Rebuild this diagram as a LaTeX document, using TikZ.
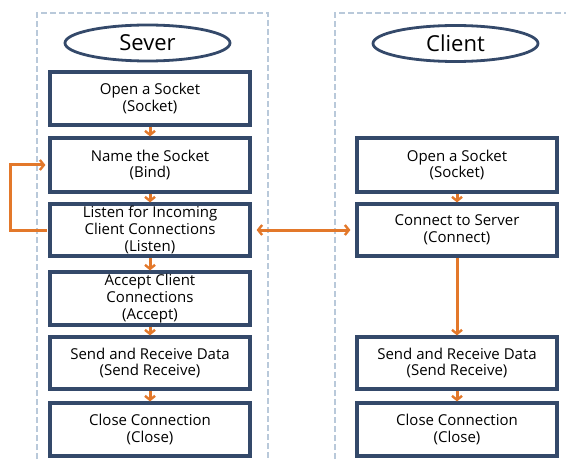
\documentclass[tikz,border=0pt]{standalone}
\usepackage{fontspec}
\setmainfont{Open Sans}
\usetikzlibrary{arrows.meta,shapes.geometric}
\definecolor{boxblue}{HTML}{34496A}
\definecolor{arrorange}{HTML}{E3782A}
\definecolor{panelgray}{HTML}{B9C9DA}
\tikzset{
  x=1pt,y=-1pt,
  panel/.style={draw=panelgray,line width=2pt,dash pattern=on 6pt off 3pt},
  stepbox/.style={draw=boxblue,line width=3.2pt,fill=white,minimum width=200pt,align=center,font=\fontsize{15}{16.8}\selectfont,inner sep=0pt},
  title/.style={ellipse,draw=boxblue,line width=2.8pt,minimum width=165pt,minimum height=36pt,font=\fontsize{22}{24}\selectfont,inner sep=0pt},
  flow/.style={draw=arrorange,line width=3pt,-{Straight Barb[length=4pt,width=10pt,line width=2.4pt]}},
  dflow/.style={draw=arrorange,line width=3pt,{Straight Barb[length=4pt,width=10pt,line width=2.4pt]}-{Straight Barb[length=4pt,width=10pt,line width=2.4pt]}}
}
\begin{document}
\begin{tikzpicture}
\useasboundingbox (0,0) rectangle (566,460);
\draw[panel] (37,459) -- (37,13) -- (268,13) -- (268,459);
\draw[panel] (335,459) -- (335,13) -- (570,13);
\node[title] (stitle) at (147.5,43) {Sever};
\node[title] (ctitle) at (455.5,43.5) {Client};
% server
\node[stepbox,minimum height=53pt] (s1) at (150,98.5) {Open a Socket\\(Socket)};
\node[stepbox,minimum height=54pt] (s2) at (150,165) {Name the Socket\\(Bind)};
\node[stepbox,minimum height=52pt] (s3) at (150,230) {Listen for Incoming\\Client Connections\\(Listen)};
\node[stepbox,minimum height=53pt] (s4) at (150,298.5) {Accept Client\\Connections\\(Accept)};
\node[stepbox,minimum height=52pt] (s5) at (150,363) {Send and Receive Data\\(Send Receive)};
\node[stepbox,minimum height=53pt] (s6) at (150,429.5) {Close Connection\\(Close)};
% client
\node[stepbox,minimum height=54pt] (c1) at (457,165) {Open a Socket\\(Socket)};
\node[stepbox,minimum height=52pt] (c2) at (457,230) {Connect to Server\\(Connect)};
\node[stepbox,minimum height=52pt] (c3) at (457,363) {Send and Receive Data\\(Send Receive)};
\node[stepbox,minimum height=53pt] (c4) at (457,429.5) {Close Connection\\(Close)};
% arrows
\draw[flow] (s1) -- (s2);
\draw[flow] (s2) -- (s3);
\draw[flow] (s3) -- (s4);
\draw[flow] (s4) -- (s5);
\draw[flow] (s5) -- (s6);
\draw[flow] (c1) -- (c2);
\draw[flow] (c2) -- (c3);
\draw[flow] (c3) -- (c4);
\draw[flow] ([xshift=-1.6pt]s3.west) -- (10,230) -- (10,165) -- ([xshift=-3pt]s2.west);
\draw[dflow] ([xshift=5pt]s3.east) -- ([xshift=-5pt]c2.west);
\end{tikzpicture}
\end{document}
